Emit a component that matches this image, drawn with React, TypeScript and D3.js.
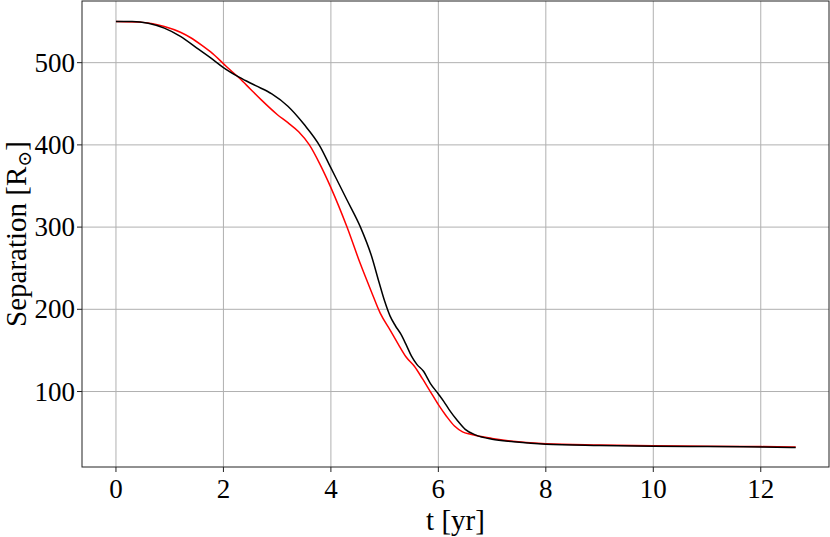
import React from "react";
import * as d3 from "d3";

const blackT = [0, 0.3, 0.6, 0.9, 1.2, 1.5, 1.8, 2.0, 2.3, 2.6, 2.9, 3.2, 3.5, 3.8, 4.0, 4.3, 4.55, 4.75, 4.9, 5.0, 5.1, 5.2, 5.3, 5.4, 5.5, 5.6, 5.72, 5.85, 6.0, 6.1, 6.2, 6.35, 6.5, 6.7, 7.0, 7.4, 8.0, 9.0, 10, 11, 12, 12.65];
const blackSep = [550, 550, 548, 542, 532, 518, 504, 494, 482, 472, 462, 447, 425, 398, 372, 333, 300, 266, 232, 210, 192, 180, 170, 157, 143, 133, 125, 110, 97, 88, 78, 65, 54, 47, 42, 39, 36, 34.5, 33.5, 33, 32.5, 32];

const redT = [0, 0.5, 0.9, 1.2, 1.4, 1.6, 1.8, 2.06, 2.3, 2.5, 2.7, 3.0, 3.2, 3.4, 3.6, 3.8, 4.0, 4.3, 4.55, 4.75, 4.92, 5.1, 5.25, 5.4, 5.55, 5.7, 5.85, 6.0, 6.15, 6.3, 6.45, 6.6, 7.0, 8, 9, 10, 11, 12, 12.65];
const redSep = [550, 549, 544, 537, 530, 521, 511, 495, 481, 468, 455, 437, 427, 416, 400, 376, 348, 300, 255, 222, 195, 175, 158, 142, 131, 116, 100, 84, 70, 58, 51, 48, 43, 36.5, 35, 34, 33.3, 33, 32.5];

const xTicks = [0, 2, 4, 6, 8, 10, 12];
const yTicks = [100, 200, 300, 400, 500];

const W = 830;
const H = 537;
const L = 82, R = 829, T = 1, B = 467;
const FONT = "'Liberation Serif', 'DejaVu Serif', serif";

export default function App() {
  const x = d3.scaleLinear().domain([-0.632, 13.27]).range([L, R]);
  const y = d3.scaleLinear().domain([8.2, 575]).range([B, T]);
  const line = d3
    .line<[number, number]>()
    .x((d) => x(d[0]))
    .y((d) => y(d[1]))
    .curve(d3.curveMonotoneX);
  const blackData = blackT.map((t, i) => [t, blackSep[i]] as [number, number]);
  const redData = redT.map((t, i) => [t, redSep[i]] as [number, number]);

  return (
    <svg width={W} height={H} style={{ position: "absolute", left: 0, top: 0, background: "#fff" }}>
      <rect x={0} y={0} width={W} height={H} fill="#fff" />
      {xTicks.map((t) => (
        <line key={"gx" + t} x1={x(t)} x2={x(t)} y1={T} y2={B} stroke="#b0b0b0" strokeWidth={1} />
      ))}
      {yTicks.map((v) => (
        <line key={"gy" + v} x1={L} x2={R} y1={y(v)} y2={y(v)} stroke="#b0b0b0" strokeWidth={1} />
      ))}
      <path d={line(redData) || ""} fill="none" stroke="#ff0000" strokeWidth={1.5} />
      <path d={line(blackData) || ""} fill="none" stroke="#000" strokeWidth={1.5} />
      <rect x={L} y={T} width={R - L} height={B - T} fill="none" stroke="#222" strokeWidth={1} />
      {xTicks.map((t) => (
        <g key={"tx" + t}>
          <line x1={x(t)} x2={x(t)} y1={B} y2={B + 5} stroke="#222" strokeWidth={1} />
          <text x={x(t)} y={B + 31} textAnchor="middle" fontFamily={FONT} fontSize={27} fill="#000">
            {t}
          </text>
        </g>
      ))}
      {yTicks.map((v) => (
        <g key={"ty" + v}>
          <line x1={L - 5} x2={L} y1={y(v)} y2={y(v)} stroke="#222" strokeWidth={1} />
          <text x={L - 7} y={y(v) + 9} textAnchor="end" fontFamily={FONT} fontSize={27} fill="#000">
            {v}
          </text>
        </g>
      ))}
      <text x={(L + R) / 2} y={530} textAnchor="middle" fontFamily={FONT} fontSize={29} fill="#000">
        t [yr]
      </text>
      <text
        transform={`translate(26, ${(T + B) / 2}) rotate(-90)`}
        textAnchor="middle"
        fontFamily={FONT}
        fontSize={29}
        fill="#000"
      >
        Separation [R
        <tspan fontSize={19} dy={5}>⊙</tspan>
        <tspan dy={-5}>]</tspan>
      </text>
    </svg>
  );
}
